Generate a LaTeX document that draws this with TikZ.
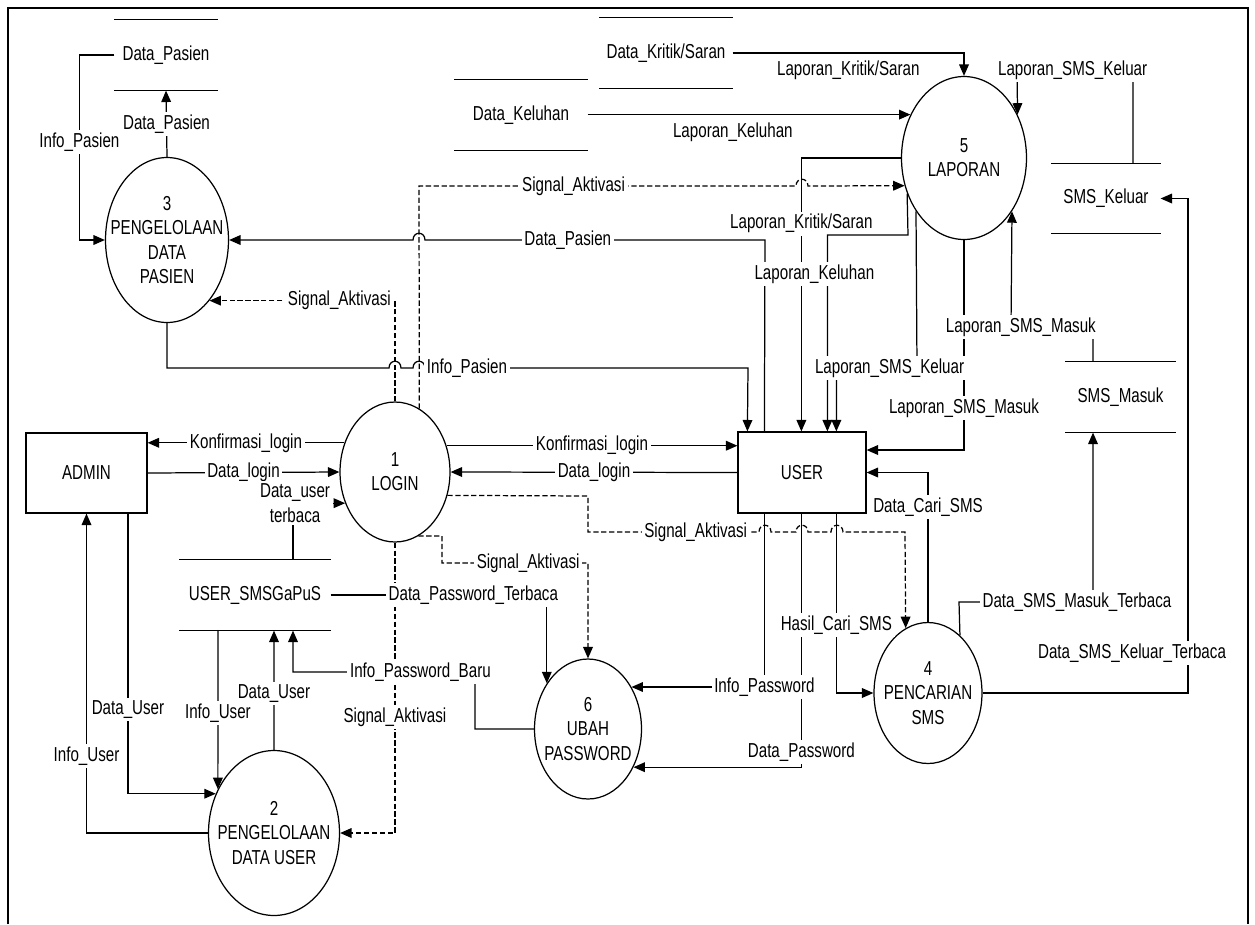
\documentclass[tikz,border=0pt]{standalone}
\usepackage{fontspec}
\setmainfont{Liberation Sans}[FakeStretch=0.75]
\usetikzlibrary{arrows.meta, shapes.geometric, positioning}

\begin{document}
\begin{tikzpicture}[x=0.02cm,y=-0.02cm,>={Triangle[length=6.5pt,width=5.5pt]},line width=0.7pt,font=\fontsize{11.5}{13.8}\selectfont]
		\tikzstyle{proc}=[draw,ellipse,inner sep=0pt]
		\tikzstyle{ent}=[draw,rectangle,inner sep=0pt]
		\tikzstyle{store}=[inner sep=0pt,minimum height=1.4cm]
		\tikzstyle{lbl}=[fill=white,inner sep=1.5pt,align=center]
		\tikzstyle{sig}=[dash pattern=on 3pt off 1.5pt]

		\useasboundingbox (0,0) rectangle (1255,924);
		\draw[line width=1.2pt] (8,924) -- (8,8) -- (1248,8) -- (1248,924);

		% proses
		\node[proc,minimum width=2.2cm,minimum height=2.8cm,label={[align=center]center:1\\LOGIN}] (P1) at (395,472) {};
		\node[proc,minimum width=2.62cm,minimum height=3.3cm,label={[align=center]center:2\\PENGELOLAAN\\DATA USER}] (P2) at (274,833) {};
		\node[proc,minimum width=2.46cm,minimum height=3.3cm,label={[align=center]center:3\\PENGELOLAAN\\DATA\\PASIEN}] (P3) at (167,240) {};
		\node[proc,minimum width=2.16cm,minimum height=2.82cm,label={[align=center]center:4\\PENCARIAN\\SMS}] (P4) at (928,693) {};
		\node[proc,minimum width=2.5cm,minimum height=3.26cm,label={[align=center]center:5\\LAPORAN}] (P5) at (964,158) {};
		\node[proc,minimum width=2.14cm,minimum height=2.8cm,label={[align=center]center:6\\UBAH\\PASSWORD}] (P6) at (588,729) {};

		% entitas
		\node[ent,minimum width=2.42cm,minimum height=1.6cm] (ADM) at (86.5,473) {ADMIN};
		\node[ent,minimum width=2.56cm,minimum height=1.62cm] (USR) at (802,472.5) {USER};

		% data store
		\node[store,minimum width=2.04cm] (D1) at (166,55) {Data\_Pasien};
		\node[store,minimum width=2.64cm] (D2) at (666,53) {Data\_Kritik/Saran};
		\node[store,minimum width=2.64cm] (D3) at (521,115) {Data\_Keluhan};
		\node[store,minimum width=2.16cm,minimum height=1.38cm] (D4) at (1106,198.5) {SMS\_Keluar};
		\node[store,minimum width=2.18cm] (D5) at (1120.5,397) {SMS\_Masuk};
		\node[store,minimum width=3cm] (D6) at (255,595) {USER\_SMSGaPuS};
		\foreach \s in {D1,D2,D3,D4,D5,D6}
			\draw (\s.north west) -- (\s.north east) (\s.south west) -- (\s.south east);

		% alur (garis yang dilewati label digambar dulu)
		\draw[->,sig] (P1.south) |- node[lbl,pos=.3] (t1) {Signal\_Aktivasi} (P2.east);
		\draw[->] ([xshift=.54cm]USR.north west) -- (765,240) -- node[lbl,pos=.58] (t2) {Data\_Pasien} (425,240)
			.. controls (425,231) and (413,231) .. (413,240) -- (P3.east);
		\draw[->] (P5.west) -| node[lbl,pos=.62] (t3) {Laporan\_Kritik/Saran} ([xshift=1.28cm]USR.north west);
		\draw[->] (P5.south) |- node[lbl,pos=.4] (t4) {Laporan\_SMS\_Masuk} ([yshift=.45cm]USR.east);
		\draw[->] (P5.212.9) -- (908,235) -| node[lbl,pos=.6,xshift=-.26cm] (t5) {Laporan\_Keluhan} ([xshift=1.8cm]USR.north west);
		\draw[->] (P5.228.8) -- (917,368) -| node[lbl,pos=.17] (t6) {Laporan\_SMS\_Keluar} ([xshift=1.98cm]USR.north west);
		\draw[->] ([xshift=-.55cm]D5.north) |- node[lbl,pos=.94] (t7) {Laporan\_SMS\_Masuk} (1011,327) -- (P5.-48.8);
		\draw[->] ([xshift=.54cm]D4.north) |- node[lbl,pos=.76] (t8) {Laporan\_SMS\_Keluar} (1017,70) -- (P5.39.2);
		\draw[->] (D2.east) -| node[below=1pt,pos=.25] (t9) {Laporan\_Kritik/Saran} (P5.north);
		\draw[->] (P5.141 -| D3.east) -- node[below=1pt,pos=.45] (t10) {Laporan\_Keluhan} (P5.141);

		\draw[->,sig] (P1.69) -- (419,186) -- node[lbl,pos=.41] (t11) {Signal\_Aktivasi} (796,186)
			.. controls (796,177) and (808,177) .. (808,186) -- (P5.205.5);
		\draw[->,sig] (P1.north) |- node[lbl,pos=.65] (t12) {Signal\_Aktivasi} (P3.-55);
		\draw[->] (P3.south) -- (167,368) -- (389,368) .. controls (389,359) and (401,359) .. (401,368)
			-- (413,368) .. controls (413,359) and (425,359) .. (425,368)
			-- node[lbl,pos=.13] (t13) {Info\_Pasien} (748,368) -- ([xshift=.2cm]USR.north west);

		\draw[->] (P1.150.9) -- node[lbl] (t14) {Konfirmasi\_login} (P1.150.9 -| ADM.east);
		\draw[->] (ADM.east) -- node[lbl] (t15) {Data\_login} (P1.west);
		\draw[->] (P1.27) -- node[lbl] (t16) {Konfirmasi\_login} (P1.27 -| USR.west);
		\draw[->] (USR.west) -- node[lbl] (t17) {Data\_login} (P1.east);
		\draw[->] ([xshift=.76cm]D6.north) |- node[lbl,pos=.52] (t18) {Data\_user\\terbaca} (P1.212.2);

		\draw[->] ([xshift=1.28cm]USR.south west) |- node[lbl,pos=.47] (t19) {Data\_Password} (P6.-40.2);
		\draw[->] ([xshift=.54cm]USR.south west) |- node[lbl,pos=.5] (t20) {Info\_Password} (P6.44.5);
		\draw[->] ([xshift=1.98cm]USR.south west) |- node[lbl,pos=.31] (t21) {Hasil\_Cari\_SMS} (P4.west);
		\draw[->,sig] (P1.-24.9) -- (588,496) -- (588,532) -- node[lbl,pos=.63] (t22) {Signal\_Aktivasi} (759,532)
			.. controls (759,523) and (771,523) .. (771,532) -- (796,532)
			.. controls (796,523) and (808,523) .. (808,532) -- (831,532)
			.. controls (831,523) and (843,523) .. (843,532) -- (905,532) -- (P4.109.8);
		\draw[->,sig] (P1.-70.8) -- (442,536) -- (442,563) -- node[lbl,pos=.59] (t23) {Signal\_Aktivasi} (588,563) -- (P6.north);

		\draw[->] (D6.east) -| node[lbl,pos=.33] (t24) {Data\_Password\_Terbaca} (P6.132.3);
		\draw[->] (P6.west) -- (475,729) |- node[lbl,pos=.65] (t25) {Info\_Password\_Baru} (293,672) -- ([xshift=.76cm]D6.south);

		\draw[->] ([xshift=.83cm]ADM.south) |- node[lbl,pos=.35] (t26) {Data\_User} (P2.146.8);
		\draw[->] (P2.west) -| node[lbl,pos=.62] (t27) {Info\_User} (ADM.south);
		\draw[->] ([xshift=-.74cm]D6.south) -- node[lbl,pos=.52] (t28) {Info\_User} (P2.142.6);
		\draw[->] (P2.north) -- node[lbl,pos=.47] (t29) {Data\_User} ([xshift=.38cm]D6.south);

		\draw[->] (P4.north) |- node[lbl,pos=.385] (t30) {Data\_Cari\_SMS} (USR.east);
		\draw[->] (P4.61.75) -- (959,602) -| node[lbl,pos=.44] (t31) {Data\_SMS\_Masuk\_Terbaca} ([xshift=-.55cm]D5.south);
		\draw[->] (P4.east) -- (1188,693) |- node[lbl,pos=.04,xshift=-1.12cm] (t32) {Data\_SMS\_Keluar\_Terbaca} (D4.east);

		\draw[->] (P3.north) -- node[lbl] (t33) {Data\_Pasien} (D1.south);
		\draw[->] (D1.west) -- ++(-35,0) |- node[lbl,pos=.235] (t34) {Info\_Pasien} (P3.west);
\end{tikzpicture}
\end{document}
